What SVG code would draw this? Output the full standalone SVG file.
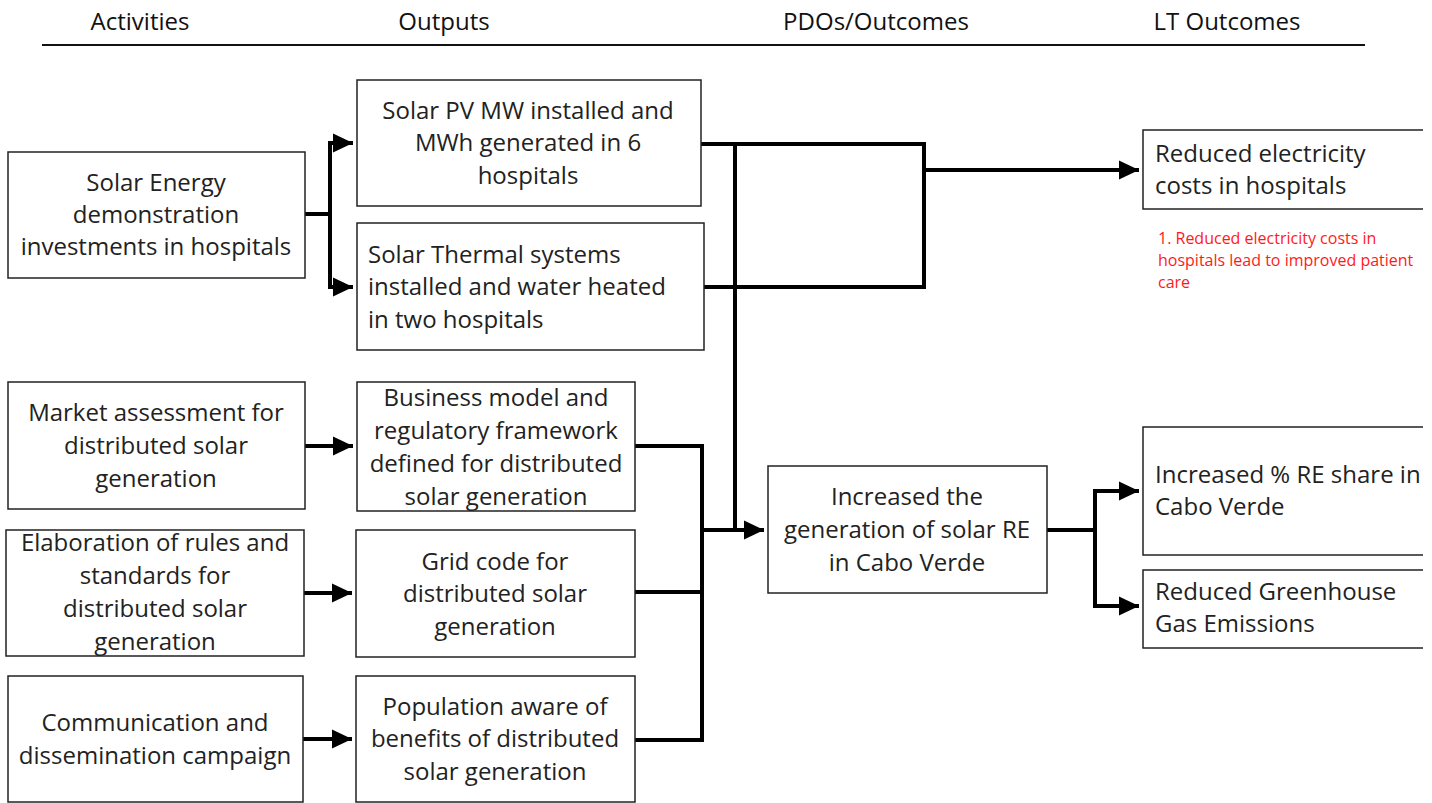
<svg xmlns="http://www.w3.org/2000/svg" width="1432" height="803" viewBox="0 0 1432 803">
<defs>
<marker id="ah" markerWidth="6" markerHeight="6" refX="5" refY="3" orient="auto" markerUnits="strokeWidth">
<path d="M0,0.6 L5,3 L0,5.4 z" fill="#000"/>
</marker>
<clipPath id="crop"><rect x="0" y="0" width="1423" height="803"/></clipPath>
<style>
.box{fill:#fff;stroke:#222;stroke-width:1.5}
.t{font-family:"Open Sans","Liberation Sans",sans-serif;font-size:24px;fill:#222}
.c{text-anchor:middle}
.h{font-family:"Open Sans","Liberation Sans",sans-serif;font-size:24px;fill:#111;text-anchor:middle}
.red{font-family:"Open Sans","Liberation Sans",sans-serif;font-size:16px;fill:#ff1a1a}
.ln{fill:none;stroke:#000;stroke-width:4}
.ar{fill:none;stroke:#000;stroke-width:4;marker-end:url(#ah)}
</style>
</defs>
<rect width="1432" height="803" fill="#fff"/>
<g id="header">
<text class="h" x="140" y="30">Activities</text>
<text class="h" x="444" y="30">Outputs</text>
<text class="h" x="876" y="30">PDOs/Outcomes</text>
<text class="h" x="1227" y="30">LT Outcomes</text>
<line x1="42" y1="45" x2="1365" y2="45" stroke="#111" stroke-width="2"/>
</g>
<g id="connectors">
<path class="ln" d="M305,214 H330"/>
<path class="ar" d="M330,214 V143 H353"/>
<path class="ar" d="M330,214 V287 H353"/>
<path class="ln" d="M701,144 H924 V287 H704"/>
<path class="ar" d="M924,170 H1139"/>
<path class="ln" d="M735,144 V530"/>
<path class="ar" d="M735,530 H764"/>
<path class="ln" d="M635,446 H702 V740 H635"/>
<path class="ln" d="M635,592 H702"/>
<path class="ln" d="M702,530 H735"/>
<path class="ar" d="M305,446 H353"/>
<path class="ar" d="M304,593 H352"/>
<path class="ar" d="M303,739 H352"/>
<path class="ln" d="M1047,530 H1095"/>
<path class="ar" d="M1095,530 V491 H1139"/>
<path class="ar" d="M1095,530 V606 H1139"/>
</g>
<g id="n1">
<rect class="box" x="8" y="152" width="297" height="126"/>
<text class="t c" x="156" y="191">Solar Energy</text>
<text class="t c" x="156" y="223">demonstration</text>
<text class="t c" x="156" y="255">investments in hospitals</text>
</g>
<g id="n2">
<rect class="box" x="357" y="80" width="344" height="126"/>
<text class="t c" x="528" y="119">Solar PV MW installed and</text>
<text class="t c" x="528" y="151">MWh generated in 6</text>
<text class="t c" x="528" y="184">hospitals</text>
</g>
<g id="n3">
<rect class="box" x="357" y="223" width="347" height="127"/>
<text class="t" x="368" y="263">Solar Thermal systems</text>
<text class="t" x="368" y="295">installed and water heated</text>
<text class="t" x="368" y="328">in two hospitals</text>
</g>
<g id="n4">
<rect class="box" x="8" y="382" width="297" height="127"/>
<text class="t c" x="156" y="421">Market assessment for</text>
<text class="t c" x="156" y="454">distributed solar</text>
<text class="t c" x="156" y="487">generation</text>
</g>
<g id="n5">
<rect class="box" x="357" y="382" width="278" height="129"/>
<text class="t c" x="496" y="406">Business model and</text>
<text class="t c" x="496" y="439">regulatory framework</text>
<text class="t c" x="496" y="472">defined for distributed</text>
<text class="t c" x="496" y="505">solar generation</text>
</g>
<g id="n6">
<rect class="box" x="6" y="530" width="298" height="126"/>
<text class="t c" x="155" y="551">Elaboration of rules and</text>
<text class="t c" x="155" y="584">standards for</text>
<text class="t c" x="155" y="617">distributed solar</text>
<text class="t c" x="155" y="650">generation</text>
</g>
<g id="n7">
<rect class="box" x="356" y="530" width="279" height="127"/>
<text class="t c" x="495" y="570">Grid code for</text>
<text class="t c" x="495" y="602">distributed solar</text>
<text class="t c" x="495" y="635">generation</text>
</g>
<g id="n8">
<rect class="box" x="8" y="676" width="295" height="126"/>
<text class="t c" x="155" y="731">Communication and</text>
<text class="t c" x="155" y="764">dissemination campaign</text>
</g>
<g id="n9">
<rect class="box" x="356" y="676" width="279" height="126"/>
<text class="t c" x="495" y="715">Population aware of</text>
<text class="t c" x="495" y="747">benefits of distributed</text>
<text class="t c" x="495" y="780">solar generation</text>
</g>
<g id="n10">
<rect class="box" x="768" y="466" width="279" height="127"/>
<text class="t c" x="907" y="505">Increased the</text>
<text class="t c" x="907" y="538">generation of solar RE</text>
<text class="t c" x="907" y="571">in Cabo Verde</text>
</g>
<g id="n11" clip-path="url(#crop)">
<rect class="box" x="1143" y="130" width="295" height="79"/>
<text class="t" x="1155" y="162">Reduced electricity</text>
<text class="t" x="1155" y="194">costs in hospitals</text>
</g>
<g id="note">
<text class="red" x="1158" y="244">1. Reduced electricity costs in</text>
<text class="red" x="1158" y="266">hospitals lead to improved patient</text>
<text class="red" x="1158" y="288">care</text>
</g>
<g id="n12" clip-path="url(#crop)">
<rect class="box" x="1143" y="427" width="295" height="128"/>
<text class="t" x="1155" y="483">Increased % RE share in</text>
<text class="t" x="1155" y="515">Cabo Verde</text>
</g>
<g id="n13" clip-path="url(#crop)">
<rect class="box" x="1143" y="570" width="295" height="78"/>
<text class="t" x="1155" y="600">Reduced Greenhouse</text>
<text class="t" x="1155" y="632">Gas Emissions</text>
</g>
</svg>
